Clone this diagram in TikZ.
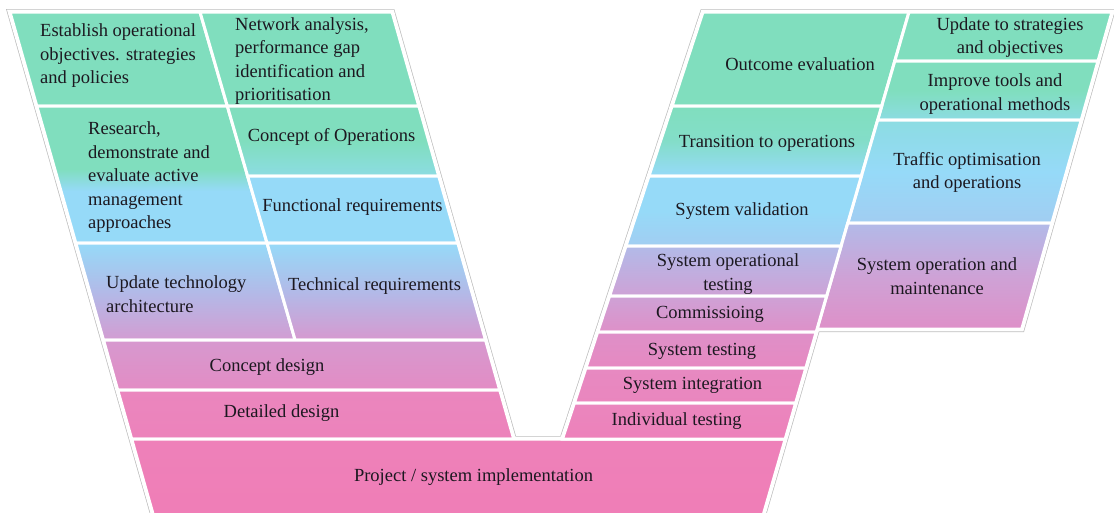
\documentclass[tikz,border=0pt]{standalone}
\usepackage{fontspec}
\setmainfont{Liberation Serif}
\usepackage{tikz}

\definecolor{vgreen}{HTML}{80DEBE}
\definecolor{vcyan}{HTML}{8CDCE2}
\definecolor{vblue}{HTML}{96DAF8}
\definecolor{vlav}{HTML}{B2BAE8}
\definecolor{vmauve}{HTML}{CEA2D6}
\definecolor{vrose}{HTML}{DE90C8}
\definecolor{vpink}{HTML}{EA86BE}
\definecolor{vdeep}{HTML}{F07DB6}
\definecolor{vink}{HTML}{1C1820}
\definecolor{vrim}{HTML}{BDBDBD}

% green that turns blue a little below the middle
\pgfdeclareverticalshading{greenblue}{100bp}{color(0bp)=(vblue); color(25bp)=(vblue);
  color(44bp)=(vblue); color(52bp)=(vgreen); color(75bp)=(vgreen); color(100bp)=(vgreen)}

\begin{document}
\begin{tikzpicture}[
  x=1pt, y=-1pt,
  cell/.style={draw=white, line width=3pt},
  lbl/.style={font=\fontsize{18.5}{23.5}\selectfont, text=vink,
    inner sep=0pt, align=center},
  lbll/.style={lbl, align=left, anchor=west}
]
  \useasboundingbox (0,0) rectangle (1114,512);

  % outline of the whole V
  \draw[vrim, line width=6pt] (10,12) -- (392,12) -- (513.7,439) -- (562.5,439)
    -- (703,12) -- (1112,12) -- (1021.7,329) -- (817.1,329) -- (758.8,530)
    -- (157.6,530) -- cycle;
  \draw[white, line width=4.6pt] (10,12) -- (392,12) -- (513.7,439) -- (562.5,439)
    -- (703,12) -- (1112,12) -- (1021.7,329) -- (817.1,329) -- (758.8,530)
    -- (157.6,530) -- cycle;

  % left arm
  \path[cell, top color=vgreen, bottom color=vgreen]
    (10,12) -- (200,12) -- (227.3,106) -- (36.8,106) -- cycle;
  \path[cell, top color=vgreen, bottom color=vgreen]
    (200,12) -- (392,12) -- (418.8,106) -- (227.3,106) -- cycle;
  \path[cell, shading=greenblue]
    (36.8,106) -- (227.3,106) -- (267,243) -- (75.8,243) -- cycle;
  \path[cell, top color=vgreen, bottom color=vcyan, middle color=vgreen]
    (227.3,106) -- (418.8,106) -- (438.7,176) -- (247.6,176) -- cycle;
  \path[cell, top color=vblue, bottom color=vblue]
    (247.6,176) -- (438.7,176) -- (457.8,243) -- (267,243) -- cycle;
  \path[cell, top color=vblue, bottom color=vmauve!70!vrose, middle color=vlav]
    (75.8,243) -- (267,243) -- (295.1,340) -- (103.5,340) -- cycle;
  \path[cell, top color=vblue, bottom color=vmauve!50!vrose, middle color=vlav]
    (267,243) -- (457.8,243) -- (485.5,340) -- (295.1,340) -- cycle;
  \path[cell, top color=vmauve!50!vrose, bottom color=vrose!60!vpink]
    (103.5,340) -- (485.5,340) -- (499.7,390) -- (117.7,390) -- cycle;
  \path[cell, top color=vpink, bottom color=vpink!60!vdeep]
    (117.7,390) -- (499.7,390) -- (513.7,439) -- (131.7,439) -- cycle;
  \path[cell, top color=vpink!40!vdeep, bottom color=vdeep]
    (131.7,439) -- (785.2,439) -- (758.8,530) -- (157.6,530) -- cycle;

  % right arm
  \path[cell, top color=vgreen, bottom color=vgreen]
    (703,12) -- (909,12) -- (881.7,106) -- (672.1,106) -- cycle;
  \path[cell, top color=vgreen, bottom color=vgreen]
    (909,12) -- (1112,12) -- (1098,61) -- (894.8,61) -- cycle;
  \path[cell, top color=vgreen, bottom color=vcyan, middle color=vgreen]
    (894.8,61) -- (1098,61) -- (1081.2,120) -- (877.7,120) -- cycle;
  \path[cell, top color=vgreen, bottom color=vblue, middle color=vgreen!70!vcyan]
    (672.1,106) -- (881.7,106) -- (861.4,176) -- (649,176) -- cycle;
  \path[cell, top color=vcyan, bottom color=vblue!60!vlav, middle color=vblue]
    (877.7,120) -- (1081.2,120) -- (1051.9,223) -- (847.8,223) -- cycle;
  \path[cell, top color=vblue, bottom color=vblue!60!vlav, middle color=vblue]
    (649,176) -- (861.4,176) -- (841.1,246) -- (626,246) -- cycle;
  \path[cell, top color=vlav, bottom color=vrose, middle color=vmauve]
    (847.8,223) -- (1051.9,223) -- (1021.7,329) -- (817.1,329) -- cycle;
  \path[cell, top color=vlav, bottom color=vmauve]
    (626,246) -- (841.1,246) -- (826.6,296) -- (609.6,296) -- cycle;
  \path[cell, top color=vmauve, bottom color=vrose]
    (609.6,296) -- (826.6,296) -- (816.2,332) -- (597.7,332) -- cycle;
  \path[cell, top color=vrose, bottom color=vpink!70!vrose]
    (597.7,332) -- (816.2,332) -- (805.8,368) -- (585.9,368) -- cycle;
  \path[cell, top color=vpink!70!vrose, bottom color=vpink]
    (585.9,368) -- (805.8,368) -- (795.6,403) -- (574.4,403) -- cycle;
  \path[cell, top color=vpink, bottom color=vpink!50!vdeep]
    (574.4,403) -- (795.6,403) -- (785.2,439) -- (562.5,439) -- cycle;

  % texts, left arm
  \node[lbll] (estab) at (40,56) {Establish operational\\objectives. strategies\\and policies};
  \node[lbll] (netw) at (235,61) {Network analysis,\\performance gap\\identification and\\prioritisation};
  \node[lbll] (research) at (88,177.5) {Research,\\demonstrate and\\evaluate active\\management\\approaches};
  \node[lbl] (conops) at (331.5,136.5) {Concept of Operations};
  \node[lbl] (funreq) at (352.5,207.5) {Functional requirements};
  \node[lbll] (updtech) at (106,294) {Update technology\\architecture};
  \node[lbl] (techreq) at (374.5,286.5) {Technical requirements};
  \node[lbl] (condes) at (267,367.5) {Concept design};
  \node[lbl] (detdes) at (281.5,413.5) {Detailed design};
  \node[lbl] (implem) at (473.5,477.5) {Project / system implementation};

  % texts, right arm
  \node[lbl] (outcome) at (800,64.5) {Outcome evaluation};
  \node[lbl] (updstrat) at (1010,37.5) {Update to strategies\\and objectives};
  \node[lbl] (imptools) at (995,94) {Improve tools and\\operational methods};
  \node[lbl] (transop) at (767,143.5) {Transition to operations};
  \node[lbl] (traffic) at (967,172.5) {Traffic optimisation\\and operations};
  \node[lbl] (sysval) at (742,211.5) {System validation};
  \node[lbl] (sysoptest) at (728,274) {System operational\\testing};
  \node[lbl] (sysop) at (937,276) {System operation and\\maintenance};
  \node[lbl] (commis) at (710,314.5) {Commissioing};
  \node[lbl] (systest) at (702,351.5) {System testing};
  \node[lbl] (sysint) at (692.5,385.5) {System integration};
  \node[lbl] (indtest) at (676.7,421.5) {Individual testing};
\end{tikzpicture}
\end{document}
